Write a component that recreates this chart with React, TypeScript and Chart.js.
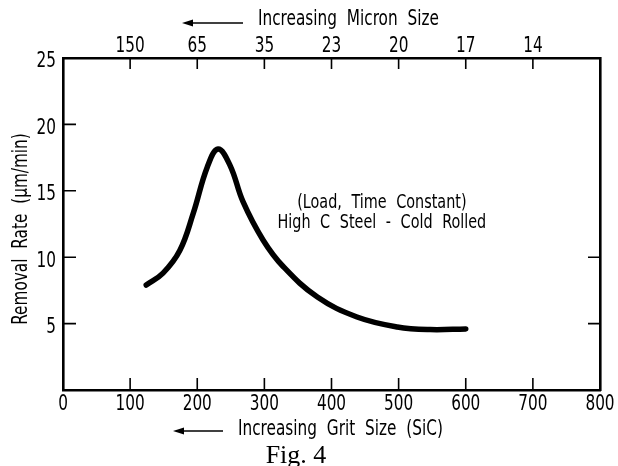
import { useEffect, useRef } from 'react';
import { Chart, registerables } from 'chart.js';

Chart.register(...registerables);

// ---- data ----
const gritSizes = [124, 149, 174, 194, 215, 231, 249, 268, 298, 328, 379, 438, 498, 547, 600];
const removalRates = [7.9, 8.8, 10.5, 13.3, 16.8, 18.15, 16.9, 14.2, 11.3, 9.3, 7.0, 5.5, 4.75, 4.55, 4.6];

const gritTickValues = [0, 100, 200, 300, 400, 500, 600, 700, 800];
const gritTickLabels = ['0', '100', '200', '300', '400', '500', '600', '700', '800'];
const micronTickPositions = [100, 200, 300, 400, 500, 600, 700];
const micronTickLabels = ['150', '65', '35', '23', '20', '17', '14'];
const rateTickValues = [5, 10, 15, 20, 25];
const rateTickLabels = ['5', '10', '15', '20', '25'];
const leftTickMarks = [5, 10, 15, 20];
const rightTickMarks = [5, 10];
const bottomTickMarks = [100, 200, 300, 400, 500, 600, 700];

const topTitle = 'Increasing Micron Size';
const bottomTitle = 'Increasing Grit Size (SiC)';
const yTitle = 'Removal Rate (\u00b5m/min)';
const noteLines = ['(Load, Time Constant)', 'High C Steel - Cold Rolled'];
const figCaption = 'Fig. 4';

const FONT = '"Liberation Sans Narrow", "DejaVu Sans Condensed", sans-serif';
const STRETCH = 1.22;

function drawText(
  ctx: CanvasRenderingContext2D,
  text: string,
  x: number,
  y: number,
  size: number,
  align: CanvasTextAlign,
  wordSpacing = '0px'
) {
  ctx.save();
  ctx.translate(x, y);
  ctx.scale(1, STRETCH);
  ctx.font = `${size}px ${FONT}`;
  ctx.textAlign = align;
  ctx.textBaseline = 'middle';
  (ctx as any).wordSpacing = wordSpacing;
  ctx.fillText(text, 0, 0);
  ctx.restore();
}

function drawArrow(ctx: CanvasRenderingContext2D, x1: number, x2: number, y: number) {
  ctx.beginPath();
  ctx.lineWidth = 1.6;
  ctx.moveTo(x1 + 6, y);
  ctx.lineTo(x2, y);
  ctx.stroke();
  ctx.beginPath();
  ctx.moveTo(x1, y);
  ctx.lineTo(x1 + 11, y - 3.5);
  ctx.lineTo(x1 + 11, y + 3.5);
  ctx.closePath();
  ctx.fill();
}

const decorPlugin = {
  id: 'decor',
  afterDraw(chart: any) {
    const ctx: CanvasRenderingContext2D = chart.ctx;
    const a = chart.chartArea;
    const xs = chart.scales.x;
    const ys = chart.scales.y;
    ctx.save();
    ctx.strokeStyle = '#000';
    ctx.fillStyle = '#000';
    ctx.lineWidth = 1.6;
    // inward tick marks
    ctx.beginPath();
    bottomTickMarks.forEach((v) => {
      const px = xs.getPixelForValue(v);
      ctx.moveTo(px, a.bottom);
      ctx.lineTo(px, a.bottom - 12);
      ctx.moveTo(px, a.top);
      ctx.lineTo(px, a.top + 11);
    });
    leftTickMarks.forEach((v) => {
      const py = ys.getPixelForValue(v);
      ctx.moveTo(a.left, py);
      ctx.lineTo(a.left + 13, py);
    });
    rightTickMarks.forEach((v) => {
      const py = ys.getPixelForValue(v);
      ctx.moveTo(a.right, py);
      ctx.lineTo(a.right - 12, py);
    });
    ctx.stroke();

    // tick labels
    gritTickValues.forEach((v, i) => {
      drawText(ctx, gritTickLabels[i], xs.getPixelForValue(v), a.bottom + 15, 17, 'center');
    });
    micronTickPositions.forEach((v, i) => {
      drawText(ctx, micronTickLabels[i], xs.getPixelForValue(v), a.top - 11, 17, 'center');
    });
    rateTickValues.forEach((v, i) => {
      drawText(ctx, rateTickLabels[i], a.left - 7, ys.getPixelForValue(v) + 4, 17, 'right');
    });

    // titles
    drawText(ctx, topTitle, 258, 20, 17, 'left', '5px');
    drawArrow(ctx, 182, 243, 23);
    drawText(ctx, bottomTitle, 238, 430, 17, 'left', '5px');
    drawArrow(ctx, 173, 223, 431);

    // annotation
    drawText(ctx, noteLines[0], xs.getPixelForValue(475), ys.getPixelForValue(14.1), 16, 'center', '5px');
    drawText(ctx, noteLines[1], xs.getPixelForValue(475), ys.getPixelForValue(12.6), 16, 'center', '5px');

    // y title (rotated)
    ctx.save();
    ctx.translate(22, 229);
    ctx.rotate(-Math.PI / 2);
    drawText(ctx, yTitle, 0, 0, 17, 'center', '5px');
    ctx.restore();

    // caption
    ctx.font = `26px "Liberation Serif", "DejaVu Serif", serif`;
    ctx.textAlign = 'center';
    ctx.textBaseline = 'middle';
    ctx.fillText(figCaption, 296, 456);
    ctx.restore();
  },
};

export default function App() {
  const ref = useRef<HTMLCanvasElement | null>(null);
  useEffect(() => {
    if (!ref.current) return;
    const border = { display: true, color: '#000', width: 2.6 };
    const chart = new Chart(ref.current, {
      type: 'line',
      data: {
        datasets: [
          {
            data: gritSizes.map((g, i) => ({ x: g, y: removalRates[i] })),
            borderColor: '#000',
            borderWidth: 5.5,
            pointRadius: 0,
            tension: 0.4,
            borderCapStyle: 'round',
            borderJoinStyle: 'round',
            fill: false,
          },
        ],
      },
      options: {
        responsive: false,
        animation: false,
        events: [],
        layout: { padding: 0 },
        plugins: { legend: { display: false }, tooltip: { enabled: false } },
        scales: {
          x: {
            type: 'linear',
            position: 'bottom',
            min: 0,
            max: 800,
            afterBuildTicks: (s: any) => {
              s.ticks = gritTickValues.map((v) => ({ value: v }));
            },
            afterFit: (s: any) => {
              s.height = 76;
            },
            ticks: { display: false },
            grid: { display: false },
            border,
          },
          x2: {
            type: 'linear',
            position: 'top',
            min: 0,
            max: 800,
            afterFit: (s: any) => {
              s.height = 58;
            },
            ticks: { display: false },
            grid: { display: false },
            border,
          },
          y: {
            type: 'linear',
            position: 'left',
            min: 0,
            max: 25,
            afterBuildTicks: (s: any) => {
              s.ticks = rateTickValues.map((v) => ({ value: v }));
            },
            afterFit: (s: any) => {
              s.width = 63;
            },
            ticks: { display: false },
            grid: { display: false },
            border,
          },
          y2: {
            type: 'linear',
            position: 'right',
            min: 0,
            max: 25,
            afterFit: (s: any) => {
              s.width = 18;
            },
            ticks: { display: false },
            grid: { display: false },
            border,
          },
        },
      },
      plugins: [decorPlugin],
    } as any);
    return () => chart.destroy();
  }, []);
  return (
    <div style={{ position: 'absolute', left: 0, top: 0, width: 618, height: 466, background: '#fff' }}>
      <canvas ref={ref} width={618} height={466} style={{ display: 'block' }} />
    </div>
  );
}
